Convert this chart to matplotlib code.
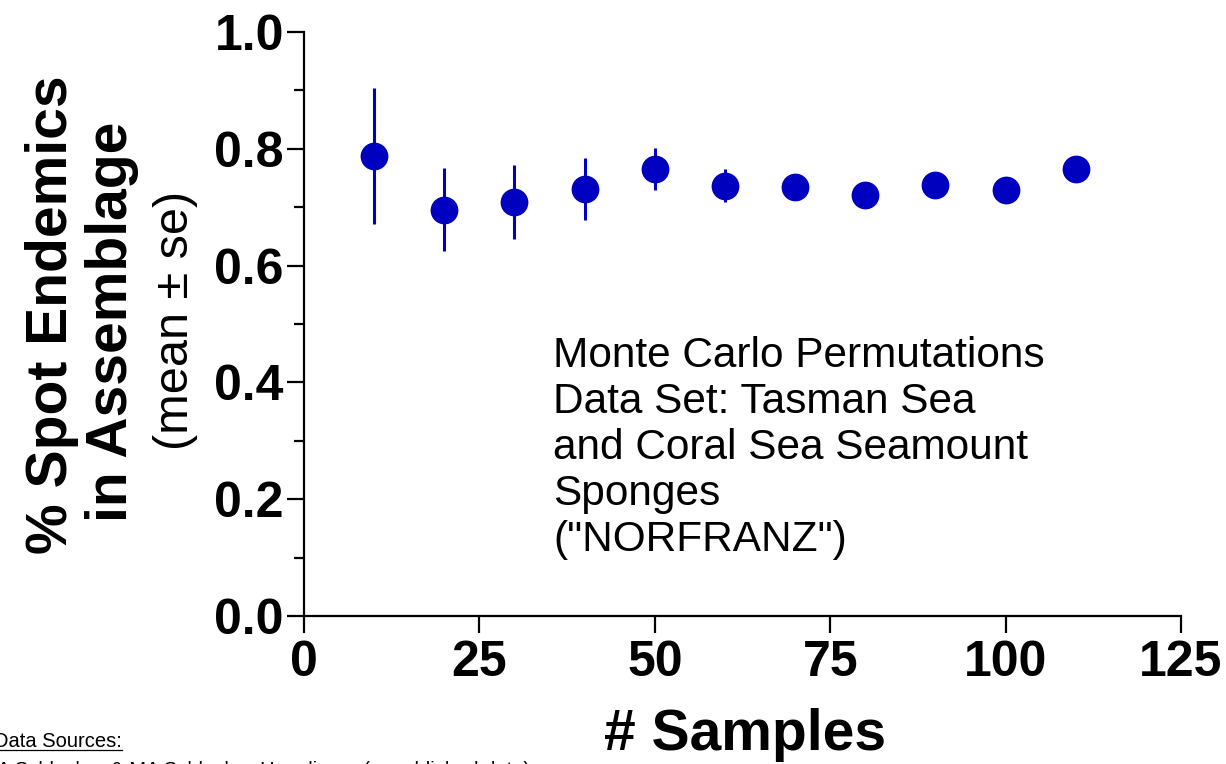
import matplotlib
matplotlib.use("Agg")
import matplotlib.pyplot as plt

# Monte Carlo permutation results: proportion of spot endemics vs. sample size
samples = [10, 20, 30, 40, 50, 60, 70, 80, 90, 100, 110]
mean_endemic = [0.788, 0.696, 0.709, 0.731, 0.765, 0.737, 0.735, 0.721, 0.738, 0.729, 0.765]
se_endemic = [0.116, 0.071, 0.064, 0.053, 0.036, 0.028, 0.020, 0.018, 0.015, 0.012, 0.010]

x_ticks = [0, 25, 50, 75, 100, 125]
y_ticks = [0.0, 0.2, 0.4, 0.6, 0.8, 1.0]
y_minor = [0.1, 0.3, 0.5, 0.7, 0.9]

plt.rcParams["font.family"] = ["Liberation Sans", "DejaVu Sans"]

W, H, DPI = 1226, 764, 100
fig = plt.figure(figsize=(W / DPI, H / DPI), dpi=DPI)
ax = fig.add_axes([304 / W, 1 - 616 / H, (1181 - 304) / W, (616 - 32) / H])

blue = "#0000C0"
ax.errorbar(samples, mean_endemic, yerr=se_endemic, fmt="o", color=blue,
            ecolor=blue, elinewidth=2.2, capsize=0, markersize=20,
            markeredgewidth=0, clip_on=False, zorder=3)

ax.set_xlim(0, 125)
ax.set_ylim(0, 1.0)
ax.set_xticks(x_ticks)
ax.set_xticklabels([str(v) for v in x_ticks])
ax.set_yticks(y_ticks)
ax.set_yticklabels([f"{v:.1f}" for v in y_ticks])
ax.set_yticks(y_minor, minor=True)

for side in ("top", "right"):
    ax.spines[side].set_visible(False)
for side in ("left", "bottom"):
    ax.spines[side].set_linewidth(1.6)

ax.tick_params(axis="both", which="major", direction="out", length=12.5,
               width=1.6, labelsize=36)
ax.tick_params(axis="y", which="major", pad=2)
ax.tick_params(axis="x", which="major", pad=5)
ax.tick_params(axis="y", which="minor", direction="out", length=7, width=1.6)
for lab in ax.get_xticklabels() + ax.get_yticklabels():
    lab.set_fontweight("bold")

# axis titles
fig.text(745 / W, 1 - 735 / H, "# Samples", ha="center", va="center",
         fontsize=41, fontweight="bold")
fig.text(52 / W, 1 - 315 / H, "% Spot Endemics", ha="center", va="center",
         rotation=90, fontsize=41, fontweight="bold")
fig.text(112 / W, 1 - 322 / H, "in Assemblage", ha="center", va="center",
         rotation=90, fontsize=41, fontweight="bold")
fig.text(175 / W, 1 - 320 / H, "(mean \u00b1 se)", ha="center", va="center",
         rotation=90, fontsize=35)

# annotation inside the plot area
ax.text(553 / W, 1 - 336 / H,
        "Monte Carlo Permutations\nData Set: Tasman Sea\nand Coral Sea Seamount\nSponges\n(\"NORFRANZ\")",
        transform=fig.transFigure, ha="left", va="top", fontsize=30.5,
        linespacing=1.19)

# source note in the lower-left corner
fig.text(-6 / W, 1 - 747 / H, "Data Sources:", ha="left", va="baseline",
         fontsize=14.5)
fig.text(-3 / W, 1 - 776 / H,
         "A Schlacher & MA Schlacher-Hoenlinger (unpublished data)",
         ha="left", va="baseline", fontsize=14.5)
fig.add_artist(plt.Line2D([0, 122 / W], [1 - 750 / H, 1 - 750 / H],
                          transform=fig.transFigure, color="black", lw=0.9))

fig.savefig("out.png", dpi=DPI)
